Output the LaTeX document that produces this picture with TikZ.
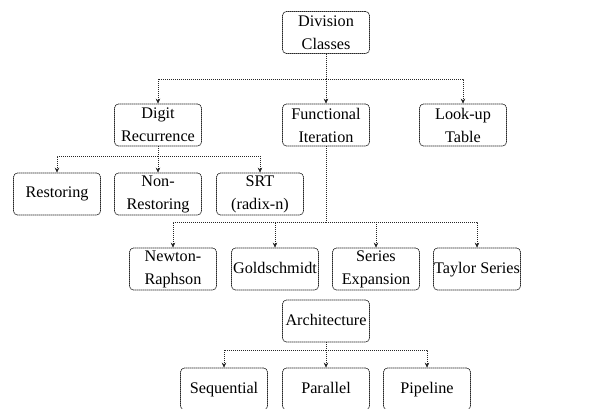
\documentclass[tikz,border=0pt]{standalone}
\usepackage{fontspec}
\setmainfont{Liberation Serif}
\usetikzlibrary{arrows.meta}
\begin{document}
\begin{tikzpicture}[x=1pt,y=-1pt,
  box/.style={draw=black!85, line width=0.7pt, dash pattern=on 1.5pt off 0.5pt, rounded corners=4pt,
    minimum width=87pt, minimum height=42pt, inner xsep=0pt, inner ysep=1pt, align=center,
    font=\fontsize{16.2}{23}\selectfont},
  one/.style={box, text height=11.5pt, text depth=3.5pt},
  link/.style={draw=black!85, line width=0.7pt, dash pattern=on 1pt off 1pt},
  arr/.style={link, -{Stealth[length=5pt,width=4.5pt,fill=black]}}]
\useasboundingbox (0,0) rectangle (611,409);
% level 1
\node[box] (dc) at (326,32.5) {Division\\Classes};
% level 2
\node[box] (dr) at (158,125) {Digit\\Recurrence};
\node[box] (fi) at (326,125) {Functional\\Iteration};
\node[box] (lt) at (463,125) {Look-up\\Table};
% level 3
\node[one] (rs) at (57,194) {Restoring};
\node[box] (nr) at (158,194) {Non-\\Restoring};
\node[box] (srt) at (260,194) {SRT\\(radix-n)};
% level 4
\node[box] (nw) at (173,269) {Newton-\\Raphson};
\node[one] (gs) at (275,269) {Goldschmidt};
\node[box] (se) at (376,269) {Series\\Expansion};
\node[one] (ts) at (477,269) {Taylor Series};
% architecture
\node[one] (ar) at (326,321) {Architecture};
\node[one] (sq) at (224,389) {Sequential};
\node[one] (pa) at (326,389) {Parallel};
\node[one] (pi) at (427,389) {Pipeline};
% buses
\coordinate (b1) at (326,79);
\coordinate (b2) at (158,156);
\coordinate (b3) at (326,222);
\coordinate (b4) at (326,350);
\draw[link] (dc.south) -- (b1);
\draw[arr] (b1) -| (dr.north);
\draw[arr] (b1) -- (fi.north);
\draw[arr] (b1) -| (lt.north);
\draw[link] (dr.south) -- (b2);
\draw[arr] (b2) -| (rs.north);
\draw[arr] (b2) -- (nr.north);
\draw[arr] (b2) -| (srt.north);
\draw[link] (fi.south) -- (b3);
\draw[arr] (b3) -| (nw.north);
\draw[arr] (b3) -| (gs.north);
\draw[arr] (b3) -| (se.north);
\draw[arr] (b3) -| (ts.north);
\draw[link] (ar.south) -- (b4);
\draw[arr] (b4) -| (sq.north);
\draw[arr] (b4) -- (pa.north);
\draw[arr] (b4) -| (pi.north);
\end{tikzpicture}
\end{document}
